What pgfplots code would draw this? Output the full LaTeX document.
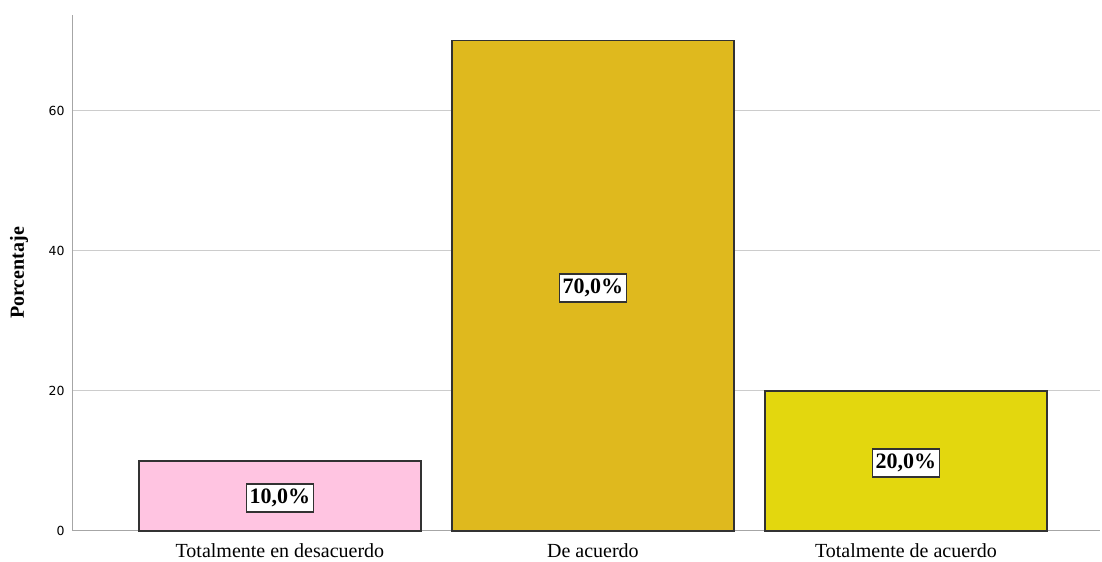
\documentclass[border=0pt]{standalone}
\usepackage{fontspec}
\setmainfont{Liberation Serif}
\newfontfamily\ticksans{DejaVu Sans}
\usepackage{pgfplots}
\pgfplotsset{compat=1.18}
\definecolor{cpink}{RGB}{255,196,225}
\definecolor{cgold}{RGB}{223,185,30}
\definecolor{cyel}{RGB}{227,215,14}
\definecolor{bord}{RGB}{50,50,50}
\begin{document}
\begin{tikzpicture}
\begin{axis}[
  scale only axis, width=1027pt, height=516pt,
  xmin=-0.661, xmax=2.62, ymin=0, ymax=73.7,
  axis x line=bottom, axis y line=left,
  axis line style={-, draw=black!35, line width=1pt},
  major tick length=0pt,
  ytick={0,20,40,60},
  /pgf/number format/assume math mode=true,
  yticklabel style={font=\ticksans\fontsize{12.5}{12.5}\selectfont, xshift=-5pt},
  ymajorgrids, grid style={draw=black!20, line width=1pt},
  xtick={0,1,2},
  xticklabels={Totalmente en desacuerdo, De acuerdo, Totalmente de acuerdo},
  xticklabel style={font=\fontsize{20}{20}\selectfont, yshift=-9pt},
  ylabel={\textbf{Porcentaje}},
  ylabel style={font=\fontsize{20}{20}\selectfont, at={(axis description cs:-0.0525,0.5)}, anchor=center},
  clip=false,
]
\addplot[ybar, bar width=282pt, bar shift=0pt, fill=cpink, draw=bord, line width=1.2pt] coordinates {(0,10)};
\addplot[ybar, bar width=282pt, bar shift=0pt, fill=cgold, draw=bord, line width=1.2pt] coordinates {(1,70)};
\addplot[ybar, bar width=282pt, bar shift=0pt, fill=cyel, draw=bord, line width=1.2pt] coordinates {(2,20)};
\addplot[draw=none, mark=none, nodes near coords, point meta=explicit symbolic,
  nodes near coords style={font=\bfseries\fontsize{22}{22}\selectfont, fill=white, draw=bord, line width=1.2pt, inner xsep=3pt, inner ysep=5pt, anchor=center, text=black, yshift=-2pt}]
  coordinates {(0,5) [{10,0\%}] (1,35) [{70,0\%}] (2,10) [{20,0\%}]};
\coordinate (bl) at (rel axis cs:0,0);
\coordinate (tr) at (rel axis cs:1,1);
\end{axis}
\pgfresetboundingbox
\path[use as bounding box] ([shift={(-73pt,-31pt)}]bl) rectangle ([shift={(2pt,15pt)}]tr);
\end{tikzpicture}
\end{document}
